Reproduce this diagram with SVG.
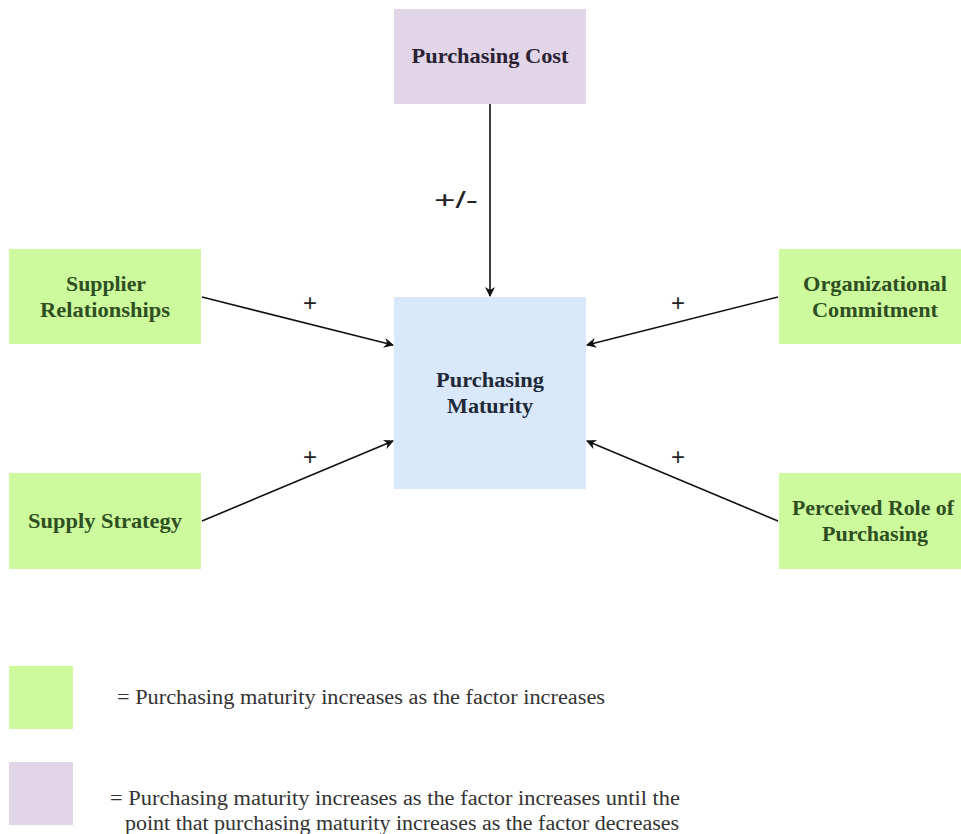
<svg xmlns="http://www.w3.org/2000/svg" width="961" height="834" viewBox="0 0 961 834">
<style>
.g{fill:#ccfa9c}
.p{fill:#e1d5e7}
.b{fill:#dae8fc}
.t{font-family:"Liberation Serif","Times New Roman",serif;font-weight:bold;font-size:21px;text-anchor:middle}
.tg{fill:#2f4f22}
.tp{fill:#2a2233}
.tb{fill:#1f2937}
.c{stroke:#111;stroke-width:1.6;fill:none}
.l{font-family:"Liberation Sans",Arial,sans-serif;font-size:24px;fill:#222;text-anchor:middle}
.lg{font-family:"Liberation Serif","Times New Roman",serif;font-size:20px;fill:#333}
</style>
<defs>
<marker id="ah" viewBox="0 0 10 10" refX="9" refY="5" markerWidth="10" markerHeight="10" markerUnits="userSpaceOnUse" orient="auto">
<path d="M0,0 L10,5 L0,10 L3,5 Z" fill="#111"/>
</marker>
</defs>
<rect width="961" height="834" fill="#fff"/>
<g id="connectors">
<line class="c" x1="490" y1="104" x2="490" y2="296" marker-end="url(#ah)"/>
<line class="c" x1="202" y1="297" x2="393" y2="345" marker-end="url(#ah)"/>
<line class="c" x1="202" y1="521" x2="393" y2="441" marker-end="url(#ah)"/>
<line class="c" x1="778" y1="297" x2="587" y2="345" marker-end="url(#ah)"/>
<line class="c" x1="778" y1="521" x2="587" y2="441" marker-end="url(#ah)"/>
<text class="l" x="456" y="208" textLength="44" lengthAdjust="spacingAndGlyphs">+/-</text>
<text class="l" x="310" y="311">+</text>
<text class="l" x="310" y="465">+</text>
<text class="l" x="678" y="311">+</text>
<text class="l" x="678" y="465">+</text>
</g>
<g id="purchasing-cost">
<rect class="p" x="394" y="9" width="192" height="95"/>
<text class="t tp" x="490" y="63" textLength="157" lengthAdjust="spacingAndGlyphs">Purchasing Cost</text>
</g>
<g id="purchasing-maturity">
<rect class="b" x="394" y="297" width="192" height="192"/>
<text class="t tb" x="490" y="387" textLength="108" lengthAdjust="spacingAndGlyphs">Purchasing</text>
<text class="t tb" x="490" y="413" textLength="86" lengthAdjust="spacingAndGlyphs">Maturity</text>
</g>
<g id="supplier-relationships">
<rect class="g" x="9" y="249" width="192" height="95"/>
<text class="t tg" x="106" y="291" textLength="80" lengthAdjust="spacingAndGlyphs">Supplier</text>
<text class="t tg" x="105" y="317" textLength="130" lengthAdjust="spacingAndGlyphs">Relationships</text>
</g>
<g id="supply-strategy">
<rect class="g" x="9" y="473" width="192" height="96"/>
<text class="t tg" x="105" y="528" textLength="154" lengthAdjust="spacingAndGlyphs">Supply Strategy</text>
</g>
<g id="organizational-commitment">
<rect class="g" x="779" y="249" width="182" height="95"/>
<text class="t tg" x="875" y="291" textLength="144" lengthAdjust="spacingAndGlyphs">Organizational</text>
<text class="t tg" x="875" y="317" textLength="126" lengthAdjust="spacingAndGlyphs">Commitment</text>
</g>
<g id="perceived-role">
<rect class="g" x="779" y="473" width="182" height="96"/>
<text class="t tg" x="873" y="515" textLength="162" lengthAdjust="spacingAndGlyphs">Perceived Role of</text>
<text class="t tg" x="875" y="541" textLength="106" lengthAdjust="spacingAndGlyphs">Purchasing</text>
</g>
<g id="legend">
<rect class="g" x="9" y="666" width="64" height="63"/>
<rect class="p" x="9" y="762" width="64" height="63"/>
<text class="lg" x="117" y="704" textLength="488" lengthAdjust="spacingAndGlyphs">= Purchasing maturity increases as the factor increases</text>
<text class="lg" x="110" y="805" textLength="570" lengthAdjust="spacingAndGlyphs">= Purchasing maturity increases as the factor increases until the</text>
<text class="lg" x="125" y="830" textLength="554" lengthAdjust="spacingAndGlyphs">point that purchasing maturity increases as the factor decreases</text>
</g>
</svg>
